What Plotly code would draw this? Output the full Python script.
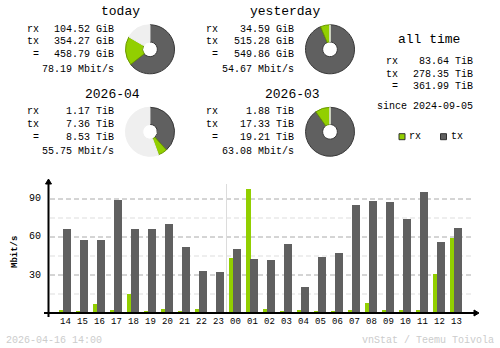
import plotly.graph_objects as go

W, H = 500, 348

# ---- data -------------------------------------------------------------
hours = ["14", "15", "16", "17", "18", "19", "20", "21", "22", "23",
         "00", "01", "02", "03", "04", "05", "06", "07", "08", "09",
         "10", "11", "12", "13"]
rx_rate = [2.0, 1.0, 7.3, 2.0, 15.2, 1.0, 3.5, 1.0, 3.5, 0.0,
           43.6, 98.1, 3.5, 1.0, 2.0, 1.0, 1.0, 2.0, 8.0, 2.0,
           2.0, 2.6, 31.1, 59.5]
tx_rate = [66.5, 57.9, 57.9, 88.9, 66.5, 66.5, 70.5, 52.3, 33.4, 32.6,
           50.8, 42.9, 42.1, 54.7, 20.8, 44.5, 47.7, 85.3, 88.5, 87.7,
           74.3, 95.9, 56.4, 67.3]
y_ticks = [30, 60, 90]
y_minor = [15, 45, 75]

periods = ["today", "yesterday", "2026-04", "2026-03"]
period_rx = [104.52, 34.59, 1.17, 1.88]
period_tx = [354.27, 515.28, 7.36, 17.33]
period_total = [458.79, 549.86, 8.53, 19.21]
period_unit = ["GiB", "GiB", "TiB", "TiB"]
period_rate = [78.19, 54.67, 55.75, 63.08]
# current period is compared against the previous one for the pie fill
previous_of = [1, None, 3, None]

alltime_rx, alltime_tx, alltime_total = 83.64, 278.35, 361.99
since = "2024-09-05"
stamp = "2026-04-16 14:00"

RX = "#92cf00"
TX = "#606060"
PIE_BG = "#efefef"
MONO = "Liberation Mono"


def px(x):
    return x / W


def py(y):
    return 1 - y / H


fig = go.Figure()
ann = []
shapes = []


def text(x, y, s, size=10, anchor="left", color="black", bold=False, angle=0):
    ann.append(dict(
        x=px(x), y=py(y), xref="paper", yref="paper", text=f"<b>{s}</b>" if bold else s,
        showarrow=False, xanchor=anchor, yanchor="middle", textangle=angle,
        font=dict(family=MONO, size=size, color=color), borderpad=0))


# ---- period summaries with donut pies ---------------------------------
blocks = [  # title right edge, label x, value right edge, pie centre, top offset
    (141, 26, 115, 150, 0),
    (321, 205, 295, 330, 0),
    (141, 26, 115, 150, 82.5),
    (321, 205, 295, 330, 82.5),
]
for i, (tr, lx, vr, cx, dy) in enumerate(blocks):
    text(tr, 11.5 + dy, periods[i], size=13, anchor="right")
    text(lx, 29 + dy, "rx")
    text(lx, 41.5 + dy, "tx")
    text(lx, 54.5 + dy, " =")
    u = period_unit[i]
    text(vr, 29 + dy, f"{period_rx[i]:.2f} {u}", anchor="right")
    text(vr, 41.5 + dy, f"{period_tx[i]:.2f} {u}", anchor="right")
    text(vr, 54.5 + dy, f"{period_total[i]:.2f} {u}", anchor="right")
    text(vr, 69 + dy, f"{period_rate[i]:.2f} Mbit/s", anchor="right")

    prev = previous_of[i]
    rest = max(period_total[prev] - period_total[i], 0) if prev is not None else 0
    r = 24.5
    cy = 49.3 + dy
    fig.add_trace(go.Pie(
        values=[period_tx[i], period_rx[i], rest],
        labels=["tx", "rx", "rest"],
        marker=dict(colors=[TX, RX, PIE_BG],
                    line=dict(color=["#383838", "#6a9800", PIE_BG], width=1)),
        sort=False, direction="clockwise", rotation=0, hole=0.3,
        textinfo="none", hoverinfo="skip", showlegend=False,
        domain=dict(x=[px(cx - r), px(cx + r)], y=[py(cy + r), py(cy - r)]),
    ))

# ---- all time ----------------------------------------------------------
text(429, 39.5, "all time", size=13, anchor="center")
text(385, 62, "rx")
text(385, 74, "tx")
text(385, 86.5, " =")
text(474, 62, f"{alltime_rx:.2f} TiB", anchor="right")
text(474, 74, f"{alltime_tx:.2f} TiB", anchor="right")
text(474, 86.5, f"{alltime_total:.2f} TiB", anchor="right")
text(474, 106, f"since {since}", anchor="right")

# legend squares
for x0, col, lab in [(399, RX, "rx"), (440.5, TX, "tx")]:
    shapes.append(dict(type="rect", xref="paper", yref="paper",
                       x0=px(x0), x1=px(x0 + 6), y0=py(139.7), y1=py(133.7),
                       fillcolor=col, line=dict(color="#303030", width=1)))
    text(x0 + 9, 136.7, lab)

# ---- hourly bar chart ---------------------------------------------------
idx = list(range(len(hours)))
X0_PX, SLOT = 65, 17          # centre of first slot and slot width in px
AX_X, AX_Y = 48.5, 313        # axis positions in px
SCALE = 38 / 30               # px per Mbit/s
x_lo = (AX_X - X0_PX) / SLOT
x_hi = (477 - X0_PX) / SLOT
y_top_px = 181
y_hi = (AX_Y - y_top_px) / SCALE

fig.add_trace(go.Bar(x=idx, y=rx_rate, width=0.30, offset=-0.41,
                     marker=dict(color=RX, line=dict(width=0)),
                     hoverinfo="skip", showlegend=False))
fig.add_trace(go.Bar(x=idx, y=tx_rate, width=0.47, offset=-0.12,
                     marker=dict(color=TX, line=dict(width=0)),
                     hoverinfo="skip", showlegend=False))

# grid
for v in y_minor:
    shapes.append(dict(type="line", xref="paper", yref="y", x0=px(50), x1=px(472),
                       y0=v, y1=v, layer="below",
                       line=dict(color="#dddddd", width=1, dash="5px,3px")))
for v in y_ticks:
    shapes.append(dict(type="line", xref="paper", yref="y", x0=px(50), x1=px(472),
                       y0=v, y1=v, layer="below",
                       line=dict(color="#aaaaaa", width=1, dash="5px,3px")))
    ann.append(dict(x=px(43), y=v, xref="paper", yref="y", text=str(v),
                    showarrow=False, xanchor="right", yanchor="middle",
                    font=dict(family=MONO, size=10, color="black")))

# separator between days
sep = hours.index("00") - 0.5
shapes.append(dict(type="line", xref="x", yref="paper", x0=sep, x1=sep,
                   y0=py(AX_Y), y1=py(184), layer="below",
                   line=dict(color="#dcdcdc", width=1)))

# axes with arrow heads
shapes.append(dict(type="line", xref="paper", yref="paper",
                   x0=px(44), x1=px(476), y0=py(AX_Y), y1=py(AX_Y),
                   line=dict(color="black", width=2)))
shapes.append(dict(type="line", xref="paper", yref="paper",
                   x0=px(AX_X), x1=px(AX_X), y0=py(317), y1=py(183),
                   line=dict(color="black", width=2)))


def tri(points):
    path = "M " + " L ".join(f"{px(a):.5f},{py(b):.5f}" for a, b in points) + " Z"
    shapes.append(dict(type="path", xref="paper", yref="paper", path=path,
                       fillcolor="black", line=dict(color="black", width=1)))


tri([(AX_X - 3, 184), (AX_X + 3, 184), (AX_X, 179)])
tri([(474, AX_Y - 3), (474, AX_Y + 3), (479, AX_Y)])

for i, h in zip(idx, hours):
    ann.append(dict(x=i, y=py(321.5), xref="x", yref="paper", text=h,
                    showarrow=False, xanchor="center", yanchor="middle",
                    font=dict(family=MONO, size=9, color="black")))

text(15, 252, "Mbit/s", size=9, anchor="center", bold=True, angle=-90)

# footer
text(5, 340, stamp, size=10, color="#cccccc")
text(495, 340, "vnStat / Teemu Toivola", size=10, anchor="right", color="#cccccc")

fig.update_layout(
    width=W, height=H, margin=dict(l=0, r=0, t=0, b=0),
    paper_bgcolor="white", plot_bgcolor="rgba(0,0,0,0)",
    barmode="overlay", bargap=0,
    xaxis=dict(domain=[px(AX_X), px(477)], range=[x_lo, x_hi], visible=False),
    yaxis=dict(domain=[py(AX_Y), py(y_top_px)], range=[0, y_hi], visible=False),
    annotations=ann, shapes=shapes, showlegend=False,
)

fig.write_html("out.html")
